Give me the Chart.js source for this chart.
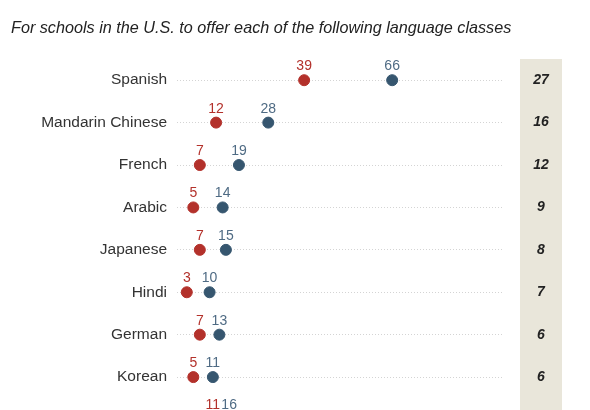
<!DOCTYPE html>
<html>
<head>
<meta charset="utf-8">
<script src="https://cdn.jsdelivr.net/npm/chart.js@4"></script>
<style>
  html, body { margin: 0; padding: 0; background: #fff; overflow: hidden; }
  #wrap { width: 590px; height: 460px; }
</style>
</head>
<body>
<div id="wrap"><canvas id="chart"></canvas></div>
<script>
const title      = 'For schools in the U.S. to offer each of the following language classes';
const languages  = ['Spanish', 'Mandarin Chinese', 'French', 'Arabic', 'Japanese', 'Hindi', 'German', 'Korean', 'Italian'];
const redValues  = [39, 12, 7, 5, 7, 3, 7, 5, 11];
const blueValues = [66, 28, 19, 14, 15, 10, 13, 11, 16];
const diffs      = [27, 16, 12, 9, 8, 7, 6, 6, 5];

const RED = '#b3312b', BLUE = '#36566f';
const FONT = '"Liberation Sans", Arial, sans-serif';

// — labels, column and title —
const extras = {
  id: 'extras',
  beforeDatasetsDraw(chart) {
    const { ctx, chartArea } = chart;
    ctx.save();
    ctx.fillStyle = '#e9e6da';
    ctx.fillRect(520, chartArea.top, 42, chart.height - chartArea.top);
    ctx.restore();
  },
  afterDatasetsDraw(chart) {
    const { ctx, scales: { x, y } } = chart;
    ctx.save();
    ctx.font = 'italic 16.2px ' + FONT;
    ctx.fillStyle = '#222';
    ctx.textAlign = 'left';
    ctx.textBaseline = 'middle';
    ctx.fillText(title, 11, 28);

    ctx.font = '14px ' + FONT;
    ctx.textAlign = 'center';
    ctx.textBaseline = 'alphabetic';
    languages.forEach((_, i) => {
      const py = y.getPixelForValue(i);
      ctx.fillStyle = RED;
      ctx.fillText(redValues[i], x.getPixelForValue(redValues[i]), py - 10);
      ctx.fillStyle = '#4f6b84';
      ctx.fillText(blueValues[i], x.getPixelForValue(blueValues[i]), py - 10);
    });

    ctx.font = 'italic bold 14px ' + FONT;
    ctx.fillStyle = '#222';
    ctx.textBaseline = 'middle';
    diffs.forEach((d, i) => ctx.fillText(d, 541, y.getPixelForValue(i)));
    ctx.restore();
  }
};

new Chart(document.getElementById('chart'), {
  type: 'scatter',
  data: {
    datasets: [
      { data: redValues.map((v, i) => ({ x: v, y: i })), backgroundColor: RED, borderColor: RED, pointRadius: 5.5, pointHoverRadius: 5.5 },
      { data: blueValues.map((v, i) => ({ x: v, y: i })), backgroundColor: BLUE, borderColor: BLUE, pointRadius: 5.5, pointHoverRadius: 5.5 }
    ]
  },
  options: {
    responsive: true,
    maintainAspectRatio: false,
    animation: false,
    layout: { padding: { top: 59, right: 87, bottom: 11, left: 0 } },
    plugins: { legend: { display: false }, tooltip: { enabled: false } },
    scales: {
      x: { min: 0, max: 100, display: false },
      y: {
        min: -0.5, max: 8.5, reverse: true,
        afterFit: s => { s.width = 177; },
        afterBuildTicks: s => { s.ticks = languages.map((_, i) => ({ value: i })); },
        ticks: {
          padding: 10,
          color: '#333',
          font: { family: FONT, size: 15.5 },
          callback: v => languages[v]
        },
        grid: { color: '#d4d4d4', lineWidth: 1, drawTicks: false },
        border: { display: false, dash: [1, 2] }
      }
    }
  },
  plugins: [extras]
});
</script>
</body>
</html>
